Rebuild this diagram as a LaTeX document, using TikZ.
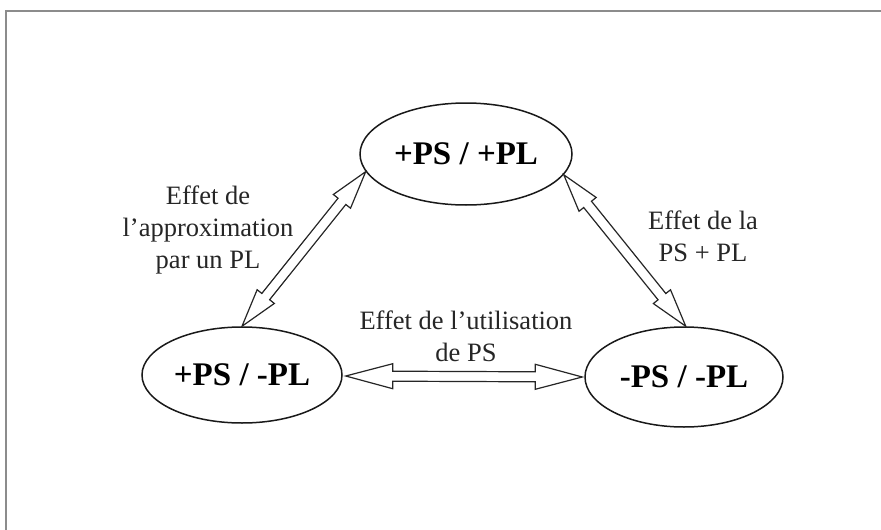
\documentclass[tikz,border=0pt]{standalone}
\usepackage{fontspec}
\setmainfont{Liberation Serif}
\usetikzlibrary{shapes.geometric,calc}

% hollow double-headed arrow between two named points
\newcommand\hollowarrow[5]{% #1 start, #2 end, #3 head length, #4 head half-width, #5 shaft half-width
  \draw[arrowline]
    (#1)
    -- ($(#1)!#3!(#2)!#4!90:(#2)$)
    -- ($(#1)!#3!(#2)!#5!90:(#2)$)
    -- ($(#2)!#3!(#1)!#5!-90:(#1)$)
    -- ($(#2)!#3!(#1)!#4!-90:(#1)$)
    -- (#2)
    -- ($(#2)!#3!(#1)!#4!90:(#1)$)
    -- ($(#2)!#3!(#1)!#5!90:(#1)$)
    -- ($(#1)!#3!(#2)!#5!-90:(#2)$)
    -- ($(#1)!#3!(#2)!#4!-90:(#2)$)
    -- cycle;}

\begin{document}
\begin{tikzpicture}[x=1pt,y=-1pt,
  state/.style={ellipse,draw=black!90,line width=1.5pt,inner sep=0pt,
    font=\bfseries\fontsize{33}{36}\selectfont},
  caption/.style={align=center,text=black!85,font=\fontsize{26.5}{32}\selectfont},
  arrowline/.style={draw=black!85,line width=1.2pt,line join=miter,fill=white},
  frameline/.style={draw=black!45,line width=2.2pt}]

\useasboundingbox (0,0) rectangle (881,530);
\fill[white] (0,0) rectangle (881,530);

% open frame: top and left edges
\coordinate (fl) at (6,530);
\coordinate (fc) at (6,11);
\coordinate (fr) at (881,11);
\draw[frameline] (fl) -- (fc) -- (fr);

% states
\node[state,minimum width=212pt,minimum height=102pt] (top) at (466,154) {+PS / +PL};
\node[state,minimum width=200pt,minimum height=96pt] (bl) at (242,375) {+PS / -PL};
\node[state,minimum width=198pt,minimum height=100pt] (br) at (684,377) {-PS / -PL};

% connector end points
\coordinate (a1) at (bl.north);
\coordinate (a2) at (top.190);
\coordinate (b1) at (top.-12);
\coordinate (b2) at (br.88);
\coordinate (c1) at ($(bl.east)+(3,1)$);
\coordinate (c2) at ($(br.west)+(-2,0)$);

\hollowarrow{a1}{a2}{38pt}{11pt}{5pt}
\hollowarrow{b1}{b2}{38pt}{11pt}{5pt}
\hollowarrow{c1}{c2}{47pt}{12.5pt}{5pt}

% captions
\node[caption] (capa) at (208,230) {Effet de\\l'approximation\\par un PL};
\node[caption] (capb) at (703,236) {Effet de la\\PS + PL};
\node[caption] (capc) at (466,336) {Effet de l'utilisation\\de PS};
\end{tikzpicture}
\end{document}
